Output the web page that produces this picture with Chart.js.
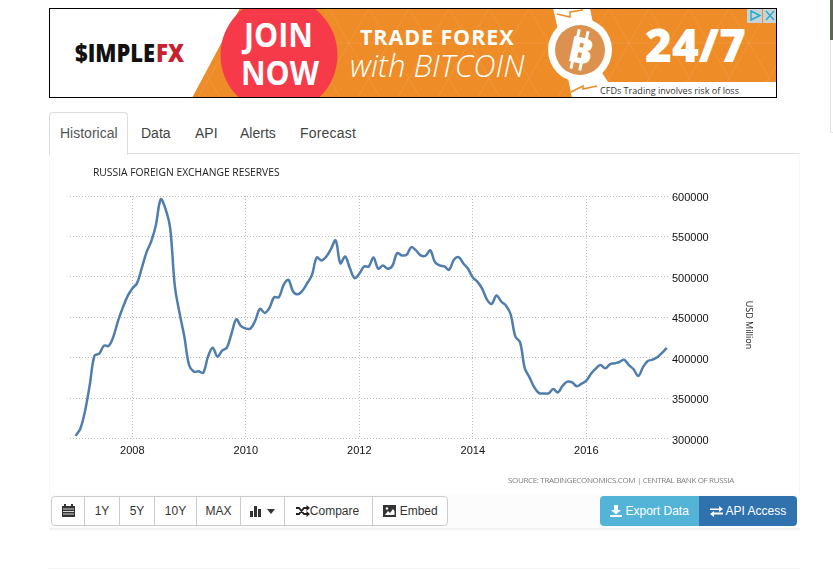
<!DOCTYPE html>
<html>
<head>
<meta charset="utf-8">
<title>Russia Foreign Exchange Reserves</title>
<script src="https://cdn.jsdelivr.net/npm/chart.js@4/dist/chart.umd.min.js"></script>
<style>
html, body { margin: 0; padding: 0; background: #fff; overflow: hidden; }
body { width: 833px; height: 570px; position: relative; font-family: "Liberation Sans", Arial, sans-serif; color: #333; }
.abs { position: absolute; }
#banner { left: 49px; top: 8px; width: 728px; height: 90px; }
#sidebit { left: 830px; top: 0; width: 3px; height: 40px; background: #5c6650; }
#sideline { left: 830px; top: 40px; width: 3px; height: 93px; border-left: 1px solid #e4e4e4; border-bottom: 1px solid #e4e4e4; box-sizing: border-box; }
#panel { left: 49px; top: 153px; width: 751px; height: 376px; border-top: 1px solid #e2e2e2; box-sizing: border-box; border-right: 1px solid #f7f7f7; border-left: 1px solid #f7f7f7; }
#panelfoot { left: 49px; top: 494px; width: 751px; height: 36px; background: #fcfcfc; border-bottom: 2px solid #f2f2f2; box-sizing: border-box; }
#pagefoot { left: 49px; top: 568px; width: 751px; height: 1px; background: #f6f6f6; }
.tab { position: absolute; top: 125px; font-size: 14px; line-height: 16px; color: #444; }
#activetab { left: 49px; top: 112px; width: 79px; height: 43px; background: #fff; border: 1px solid #ddd; border-bottom: none; border-radius: 4px 4px 0 0; box-sizing: border-box; }
#chartcanvas { position: absolute; left: 50px; top: 155px; }
#tools { left: 51px; top: 496px; height: 30px; width: 397px; border: 1px solid #ccc; border-radius: 4px; box-sizing: border-box; background: #fff; }
.tool { position: absolute; top: 0; height: 28px; line-height: 28px; font-size: 12px; color: #333; text-align: center; border-right: 1px solid #ccc; box-sizing: border-box; white-space: nowrap; }
.tool:last-child { border-right: none; }
.tool svg { vertical-align: -2px; }
.action { position: absolute; top: 496px; height: 30px; line-height: 30px; font-size: 12px; color: #fff; text-align: center; box-sizing: border-box; }
.action svg { vertical-align: -2px; }
#export { left: 600px; width: 99px; background: #53b4d8; border-radius: 4px 0 0 4px; }
#api { left: 699px; width: 98px; background: #2f72ae; border-radius: 0 4px 4px 0; }
</style>
</head>
<body>

<svg id="banner" class="abs" viewBox="0 0 728 90" xmlns="http://www.w3.org/2000/svg">
  <defs>
    <pattern id="tri" width="40" height="70" patternUnits="userSpaceOnUse">
      <path d="M0 0L40 70M40 0L0 70M0 35H40" stroke="#fff" stroke-opacity=".09" stroke-width="1" fill="none"/>
    </pattern>
    <clipPath id="bannerclip"><rect x="0" y="0" width="728" height="90"/></clipPath>
  </defs>
  <g clip-path="url(#bannerclip)">
    <rect width="728" height="90" fill="#fff"/>
    <path d="M191 0H728V90H143Z" fill="#ee8c27"/>
    <path d="M191 0H728V90H143Z" fill="url(#tri)"/>
    <circle cx="230" cy="47" r="58.5" fill="#f73a4a"/>
    <rect x="524" y="74" width="204" height="16" fill="#fff"/>
    <path d="M504 0H541L546 26H510Z M523 90L517 60H550L559 74V90Z" fill="#fff"/>
    <path d="M508 6L521 9V4L534 2" stroke="#ee8c27" stroke-width="1.5" fill="none"/>
    <path d="M522 84L534 78V81L548 78" stroke="#ee8c27" stroke-width="1.5" fill="none"/>
    <circle cx="531" cy="42" r="32" fill="#fff"/>
    <circle cx="531" cy="42" r="25" fill="#dd914e"/>
    <g transform="rotate(12 531 42)">
      <path d="M526 22V62M535 22V62" stroke="#fff" stroke-width="3"/>
      <text x="532" y="55" text-anchor="middle" font-family="Open Sans" font-weight="800" font-size="36" fill="#fff">B</text>
    </g>
    <text x="26" y="54" font-family="Open Sans" font-weight="800" font-size="24" textLength="80" lengthAdjust="spacingAndGlyphs" fill="#111">$IMPLE</text>
    <text x="107" y="54" font-family="Open Sans" font-weight="800" font-size="24" textLength="28" lengthAdjust="spacingAndGlyphs" fill="#c8202c">FX</text>
    <text x="195" y="39" font-family="Open Sans" font-weight="700" font-size="34" textLength="69" lengthAdjust="spacingAndGlyphs" fill="#fff">JOIN</text>
    <text x="192" y="77" font-family="Open Sans" font-weight="700" font-size="34" textLength="78" lengthAdjust="spacingAndGlyphs" fill="#fff">NOW</text>
    <text x="311" y="37" font-family="Open Sans" font-weight="700" font-size="21.5" letter-spacing=".9" fill="#fff">TRADE FOREX</text>
    <text x="301" y="69" font-family="Open Sans" font-style="italic" font-weight="300" font-size="31" fill="#fff">with BITCOIN</text>
    <text x="596" y="54" font-family="Open Sans" font-weight="800" font-size="46" textLength="101" lengthAdjust="spacingAndGlyphs" fill="#fff">24/7</text>
    <text x="551" y="85.5" font-family="Open Sans" font-size="9.5" textLength="139" lengthAdjust="spacingAndGlyphs" fill="#333">CFDs Trading involves risk of loss</text>
    <rect x="698" y="0" width="15" height="15" fill="#c9d3d6"/>
    <rect x="714" y="0" width="14" height="15" fill="#c9d3d6"/>
    <path d="M702 3V12L711 7.5Z" fill="none" stroke="#19aed0" stroke-width="1.4"/>
    <path d="M717 3L725 12M725 3L717 12" stroke="#19aed0" stroke-width="1.3"/>
  </g>
  <rect x=".5" y=".5" width="727" height="89" fill="none" stroke="#000"/>
</svg>

<div id="sidebit" class="abs"></div>
<div id="sideline" class="abs"></div>

<div id="panel" class="abs"></div>
<div id="panelfoot" class="abs"></div>
<div id="pagefoot" class="abs"></div>

<div id="activetab" class="abs"></div>
<div class="tab" style="left:60px;color:#555">Historical</div>
<div class="tab" style="left:141px">Data</div>
<div class="tab" style="left:195px">API</div>
<div class="tab" style="left:240px">Alerts</div>
<div class="tab" style="left:300px;letter-spacing:.2px">Forecast</div>

<canvas id="chartcanvas" width="750" height="335"></canvas>

<div id="tools" class="abs">
  <div class="tool" style="left:0;width:33px"><svg width="13" height="13" viewBox="0 0 13 13"><path d="M0 2H13V13H0Z" fill="#333"/><path d="M3 0V3M10 0V3" stroke="#333" stroke-width="2"/><path d="M1 5H12M1 7.5H12M1 10H12" stroke="#fff" stroke-width=".8"/></svg></div>
  <div class="tool" style="left:33px;width:35px">1Y</div>
  <div class="tool" style="left:68px;width:35px">5Y</div>
  <div class="tool" style="left:103px;width:42px">10Y</div>
  <div class="tool" style="left:145px;width:44px">MAX</div>
  <div class="tool" style="left:189px;width:44px"><svg width="13" height="12" viewBox="0 0 13 12"><path d="M0 6H3V12H0ZM4 1H7V12H4ZM8 4H11V12H8Z" fill="#333"/></svg> <svg width="8" height="5" viewBox="0 0 8 5" style="vertical-align:1px"><path d="M0 0H8L4 5Z" fill="#333"/></svg></div>
  <div class="tool" style="left:233px;width:88px;padding-right:2px"><svg width="14" height="12" viewBox="0 0 14 12"><path d="M0 3H3L8 9H11M0 9H3L8 3H11" stroke="#222" stroke-width="1.8" fill="none"/><path d="M10.5 0L14 3L10.5 6ZM10.5 6L14 9L10.5 12Z" fill="#222"/></svg>Compare</div>
  <div class="tool" style="left:321px;width:75px"><svg width="13" height="12" viewBox="0 0 13 12"><path d="M0 0H13V12H0Z" fill="#333"/><path d="M2 10L5 6L7 8L10 4L11.5 6V10Z" fill="#fff"/><circle cx="4" cy="3.5" r="1.2" fill="#fff"/></svg> Embed</div>
</div>

<div id="export" class="action"><svg width="12" height="12" viewBox="0 0 12 12"><path d="M4 0H8V5H11L6 9.5L1 5H4ZM0 10H12V12H0Z" fill="#fff"/></svg> Export Data</div>
<div id="api" class="action"><svg width="13" height="11" viewBox="0 0 13 11"><path d="M0 2.5H9V0L13 3L9 6V4H0ZM13 6.5H4V5L0 8L4 11V8.5H13Z" fill="#fff"/></svg> API Access</div>

<script>
// month end reserves from Jan 2007, one value per month
const startYear = 2007;
const reserves = [
    303300, 312000, 333900, 366100, 402500, 405000, 414900, 414500, 426100, 445900, 462000, 476100,
    485600, 492200, 510800, 530200, 543800, 564500, 595900, 584400, 560400, 488100, 455000, 426100,
    390900, 382700, 383100, 381400, 401300, 412400, 401300, 408700, 412400, 430200, 447500, 438900,
    436000, 436000, 445900, 460400, 455400, 461600, 474800, 474800, 490100, 496300, 481900, 478500,
    483100, 492200, 502500, 524000, 520300, 524800, 534300, 545100, 516600, 525200, 510800, 498400,
    503800, 512800, 512800, 524000, 510000, 514100, 510000, 513700, 529400, 526500, 527300, 536800,
    532700, 526500, 526100, 532700, 518200, 514100, 512800, 508700, 521100, 524400, 516600, 510000,
    499200, 493800, 485200, 471900, 466600, 476900, 469500, 464500, 453700, 426100, 419000, 386800,
    375600, 363200, 356200, 355800, 355800, 361200, 357000, 365300, 370300, 369400, 364500, 367800,
    371500, 380200, 386400, 390900, 386800, 391800, 393000, 394600, 397500, 390900, 385600, 377300,
    388400, 395900, 397500, 400400, 405800, 412000
];
const yearTicks = [2008, 2010, 2012, 2014, 2016];
const valueTicks = [300000, 350000, 400000, 450000, 500000, 550000, 600000];
const chartTitle = 'RUSSIA FOREIGN EXCHANGE RESERVES';
const sourceNote = 'SOURCE: TRADINGECONOMICS.COM | CENTRAL BANK OF RUSSIA';
const unitLabel = 'USD Million';

const tickFont = { family: '"Liberation Sans", Arial, sans-serif', size: 11 };

const chartNotes = {
    id: 'chartNotes',
    afterDraw: (chart) => {
        const {ctx} = chart;
        ctx.save();
        ctx.textBaseline = 'middle';
        ctx.fillStyle = '#222';
        ctx.font = '10.3px "Open Sans"';
        ctx.fillText(chartTitle, 43, 18);
        ctx.fillStyle = '#7f7f7f';
        ctx.font = '8px "Open Sans"';
        ctx.letterSpacing = '-0.34px';
        ctx.fillText(sourceNote, 458, 326);
        ctx.letterSpacing = '0px';
        // unit label, rotated like the reference, sits a bit below the plot's middle
        ctx.fillStyle = '#222';
        ctx.font = '9px "Open Sans"';
        ctx.textAlign = 'center';
        ctx.translate(699, 170);
        ctx.rotate(Math.PI / 2);
        ctx.fillText(unitLabel, 0, 0);
        ctx.restore();
    }
};

new Chart(document.getElementById('chartcanvas'), {
    type: 'line',
    data: {
        datasets: [
            {
                label: 'Foreign Exchange Reserves',
                data: reserves.map(function(v, i) { return {"x": startYear + i/12, "y": v} }),
                borderColor: '#4f7dac',
                backgroundColor: '#4f7dac',
                borderWidth: 2.5,
                pointRadius: 0,
                tension: 0.35,
            }
        ],
    },
    options: {
        responsive: false,
        animation: false,
        layout: {
            padding: { left: 20, top: 41 },
        },
        plugins: {
            legend: { display: false },
            tooltip: { enabled: false },
        },
        scales: {
            x: {
                type: 'linear',
                min: 2006.902,
                max: 2017.475,
                afterBuildTicks: function(scale) {
                    scale.ticks = yearTicks.map(function(y) { return {value: y} });
                },
                afterFit: function(scale) { scale.height = 51.5; },
                grid: { color: '#bdbdbd', drawTicks: false },
                border: { display: false, dash: [1, 2] },
                ticks: {
                    color: '#111',
                    font: tickFont,
                    padding: 6,
                    maxRotation: 0,
                    callback: function(v) { return String(v); },
                },
            },
            y: {
                type: 'linear',
                position: 'right',
                min: 300000,
                max: 600000,
                afterBuildTicks: function(scale) {
                    scale.ticks = valueTicks.map(function(v) { return {value: v} });
                },
                afterFit: function(scale) { scale.width = 130; },
                grid: { color: '#bdbdbd', drawTicks: false },
                border: { display: false, dash: [1, 2] },
                ticks: {
                    color: '#111',
                    font: tickFont,
                    padding: 2,
                    labelOffset: 2,
                    callback: function(v) { return String(v); },
                },
            },
        },
    },
    plugins: [chartNotes],
});
</script>
</body>
</html>
